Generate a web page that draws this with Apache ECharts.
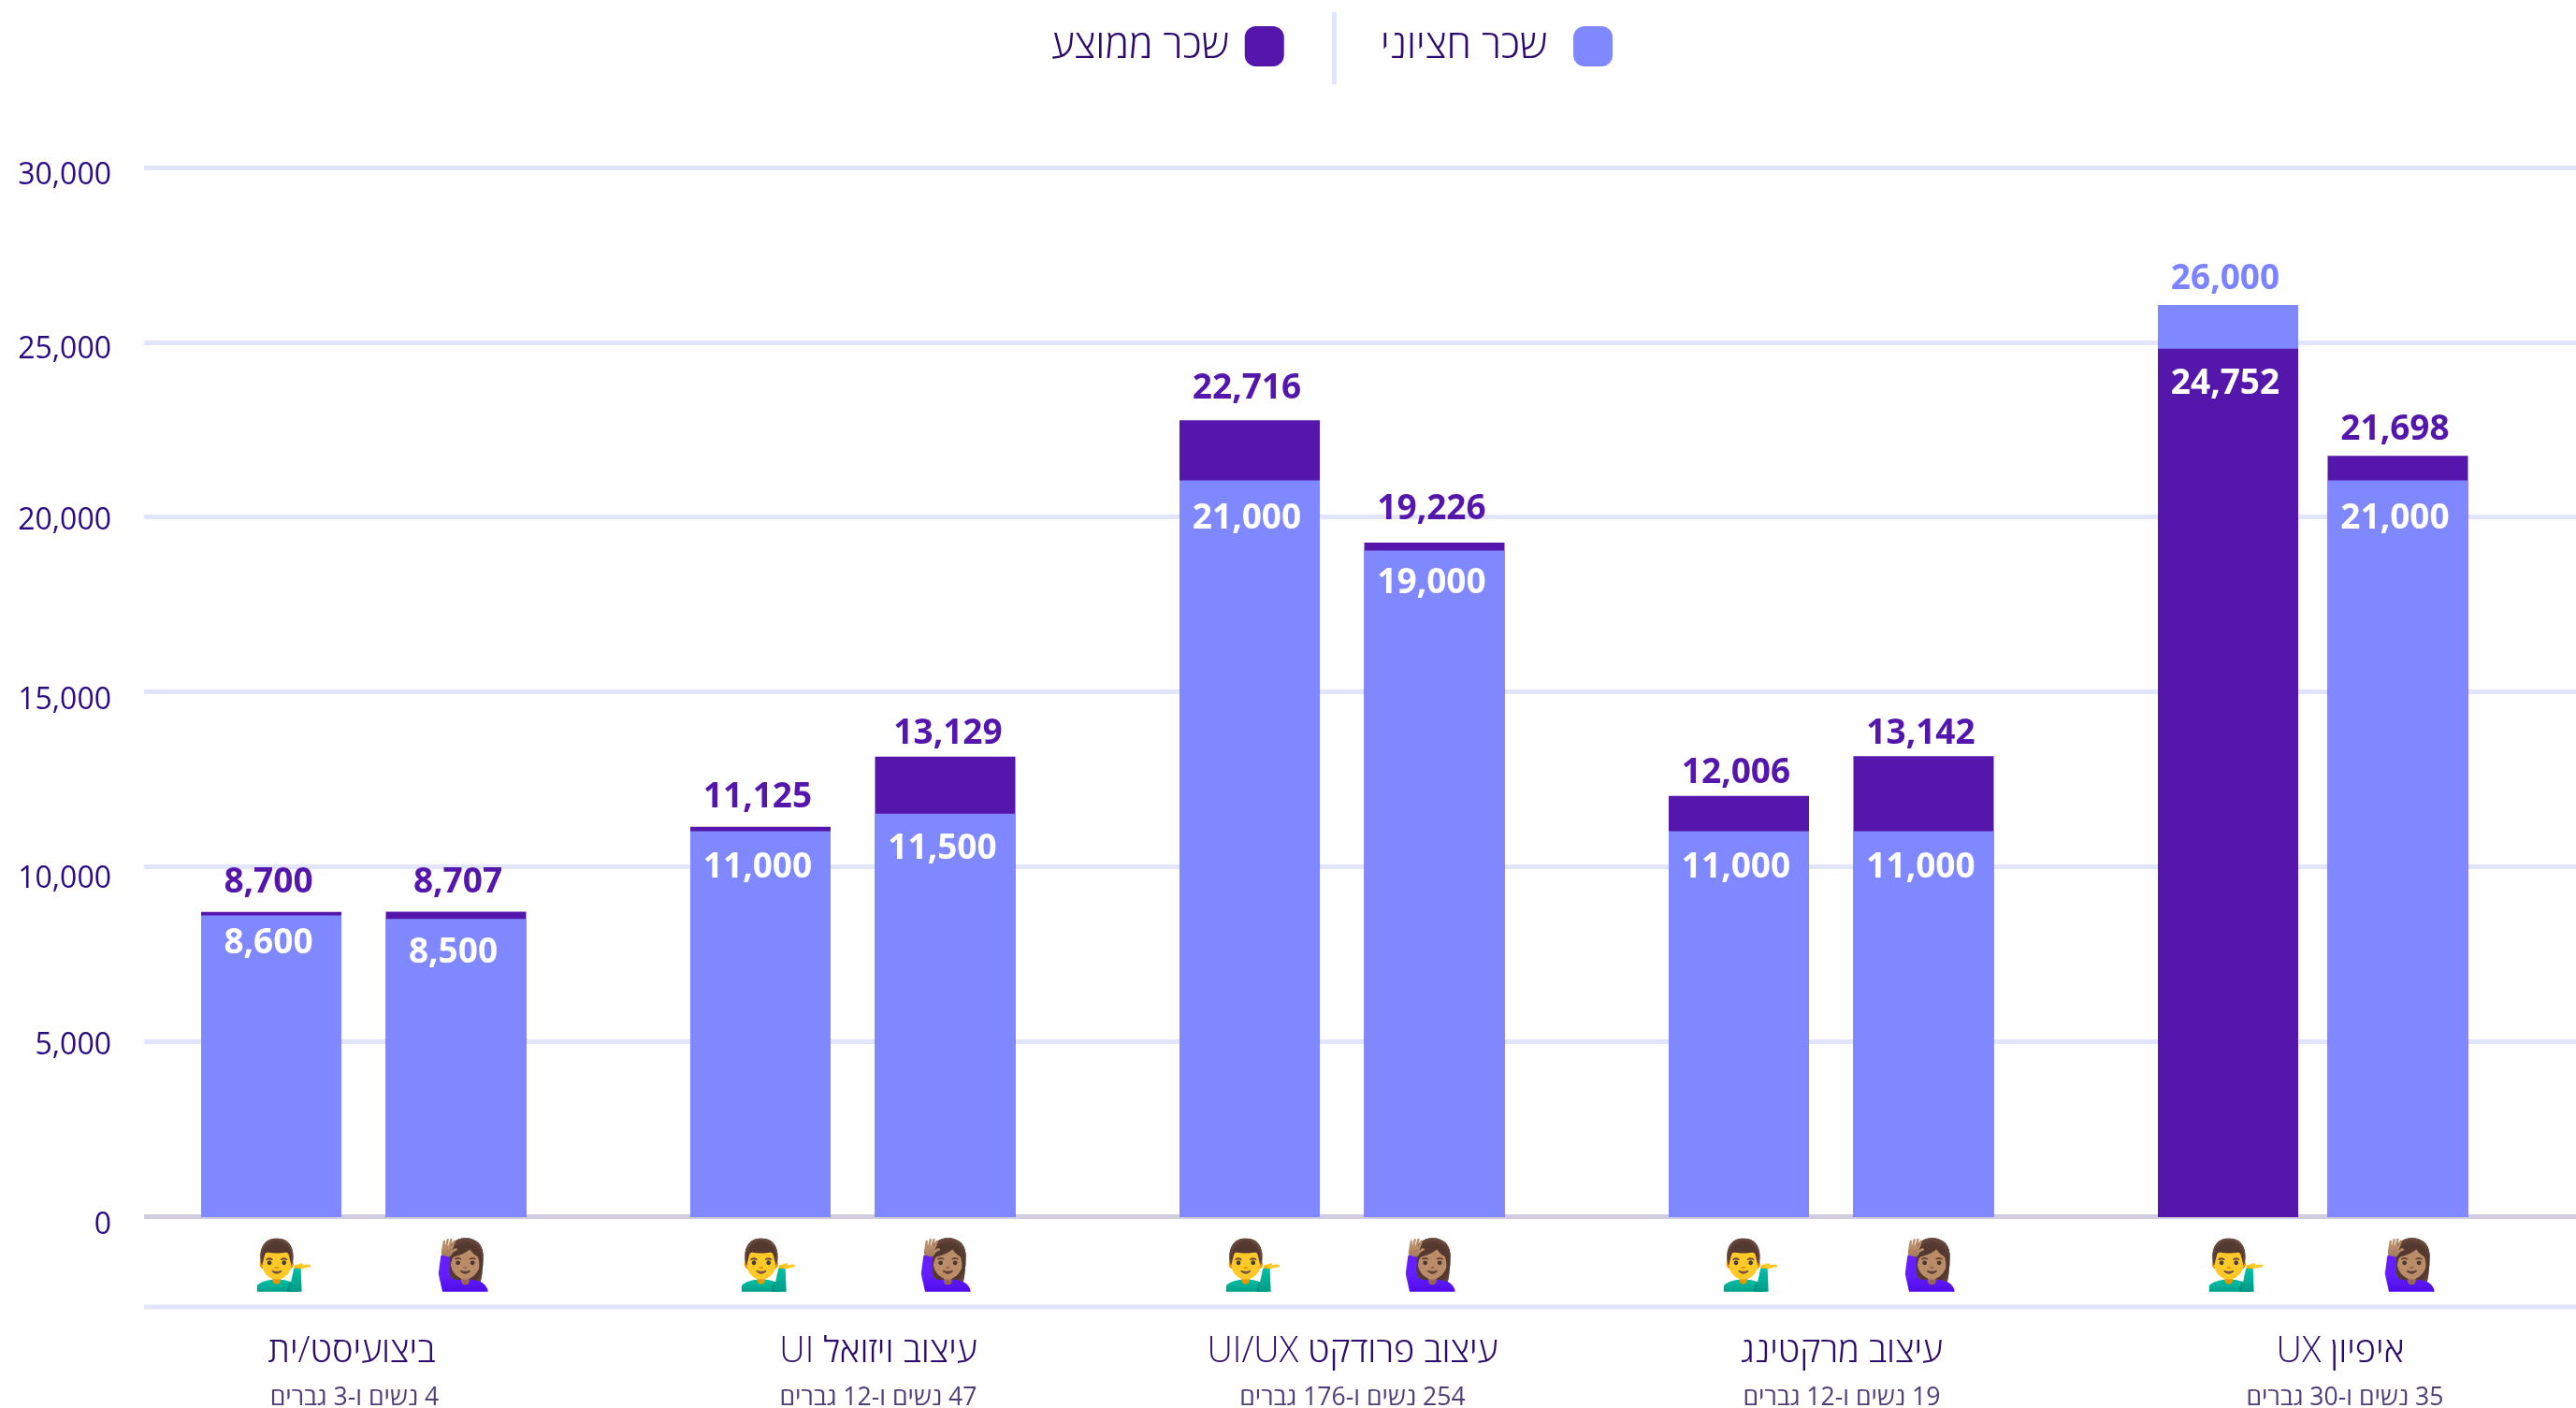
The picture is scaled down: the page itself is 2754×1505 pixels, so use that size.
<!DOCTYPE html>
<html dir="rtl">
<head>
<meta charset="utf-8">
<style>html,body{margin:0;padding:0;background:#fff}#c{position:absolute;left:0;top:0;width:2754px;height:1505px}</style>
<script src="https://cdn.jsdelivr.net/npm/echarts@6/dist/echarts.min.js"></script>
</head>
<body>
<div id="c"></div>
<script>
const categories = ['ביצועיסט/ית','עיצוב ויזואל UI','עיצוב פרודקט UI/UX','עיצוב מרקטינג','איפיון UX'];
const subtitles = ['4 נשים ו-3 גברים','47 נשים ו-12 גברים','254 נשים ו-176 גברים','19 נשים ו-12 גברים','35 נשים ו-30 גברים'];
const medianMen = [8600,11000,21000,11000,26000];
const medianWomen = [8500,11500,19000,11000,21000];
const averageMen = [8700,11125,22716,12006,24752];
const averageWomen = [8707,13129,19226,13142,21698];
const yTicks = [0,5000,10000,15000,20000,25000,30000];
const medianName = 'שכר חציוני';
const averageName = 'שכר ממוצע';
const manEmoji = '💁‍♂️';
const womanEmoji = '🙋🏽‍♀️';

// layout constants (not data)
const LIGHT='#8088ff', DARK='#5516ab', LIGHT_LABEL='#7b83ff', LINE='#e3e5fd';
const FONT='"Open Sans","Noto Sans",sans-serif';
const nameNudge=[-13,27,11,11,21], subNudge=[-10,27,11,11,26];
const yNudge={0:10,5000:5,10000:14,15000:9,20000:4,25000:8,30000:9};
const manNudge=[5,0,-5,4,0], womanNudge=[5,-2,-7,4,2];
const topDy={8700:-2,8707:-2,11125:-2,13129:5,22716:-5,19226:-7,12006:5,13142:5,26000:1,21698:1};
const innerDy={8600:-8,8500:-2,21000:3,19000:-3,11000:1};
const topDx={8707:5,13129:6};

const fmt=v=>v.toLocaleString('en-US');
function barRender(own,other,color,labelColor){
  return function(params,api){
    const i=api.value(0), c=api.coord([i,0]), band=api.size([1,0])[0];
    const u=band/523, kids=[];
    [0,1].forEach(g=>{
      const v=own[g][i], o=other[g][i], isTop=v>=o;
      const shift=(g===1&&i===categories.length-1)?-16*u:0;
      const left=c[0]+(g===0?-174*u:23.5*u)+shift, w=150*u;
      const y=api.coord([i,v])[1], h=c[1]-y;
      const ly=isTop?y-29+(topDy[v]||0):y+38+(innerDy[v]||0);
      const lx=left+w/2-3+(isTop?(topDx[v]||0):0);
      kids.push({type:'rect',z2:isTop?1:2,shape:{x:left,y:y,width:w,height:h},style:{fill:color}});
      kids.push({type:'text',z2:10,style:{text:fmt(v),x:lx,y:ly,align:'center',verticalAlign:'middle',
        fill:isTop?labelColor:'#ffffff',font:'700 37px '+FONT}});
    });
    return {type:'group',children:kids};
  };
}
function emojiRender(params,api){
  const i=api.value(0), c=api.coord([i,0]);
  return {type:'group',children:[[manEmoji,-174+75+9+manNudge[i]],[womanEmoji,23+75+6+(i===4?-8:0)+womanNudge[i]]].map(e=>({
    type:'text',style:{text:e[0],x:c[0]+e[1],y:c[1]+54,align:'center',verticalAlign:'middle',font:'52px "Noto Color Emoji","Apple Color Emoji",'+FONT,fill:'#333'}
  }))};
}
const idx=categories.map((_,i)=>[i]);
const rich={};
const padFor=d=>d>0?[0,0,0,2*d]:[0,-2*d,0,0];
categories.forEach((_,i)=>{
  rich['n'+i]={fontFamily:FONT,fontWeight:300,fontSize:38,color:'#2b0a6b',lineHeight:49,padding:padFor(nameNudge[i]),align:'center'};
  rich['s'+i]={fontFamily:FONT,fontWeight:400,fontSize:26.6,color:'#4f3f78',lineHeight:49,padding:padFor(subNudge[i]),align:'center'};
});
const yRich={};
yTicks.forEach(t=>{yRich['t'+t]={fontFamily:FONT,fontWeight:400,fontSize:32,color:'#2a0a82',padding:[2*yNudge[t],0,0,0]};});
const ICON='path://M12 0H30A12 12 0 0 1 42 12V31A12 12 0 0 1 30 43H12A12 12 0 0 1 0 31V12A12 12 0 0 1 12 0Z';
const legendBase=(name,left,pad)=>({left,top:23,align:'right',itemWidth:42,itemHeight:43,data:[name],icon:ICON,
  textStyle:{fontFamily:FONT,fontWeight:300,fontSize:42.5,color:'#2b0a6b',padding:[0,pad,0,0]}});

const chart=echarts.init(document.getElementById('c'),null,{renderer:'canvas'});
chart.setOption({
  animation:false,
  backgroundColor:'#fff',
  legend:[legendBase(averageName,1119,12),legendBase(medianName,1471,23)],
  grid:[
    {left:154,right:0,top:179,height:1121,containLabel:false,outerBoundsMode:'none'},
    {left:127.5,width:2615,top:176,height:1125,containLabel:false,outerBoundsMode:'none'}
  ],
  xAxis:[
    {gridIndex:0,type:'value',min:0,max:1,axisLabel:{show:false},axisTick:{show:false},splitLine:{show:false},
      axisLine:{show:true,lineStyle:{color:'#d2cce0',width:5,cap:'butt'}}},
    {gridIndex:1,type:'category',data:categories,axisLine:{show:false},axisTick:{show:false},
      axisLabel:{interval:0,margin:120,hideOverlap:false,
        formatter:(v,i)=>`{n${i}|${v}}\n{s${i}|${subtitles[i]}}`,rich}}
  ],
  yAxis:[
    {gridIndex:0,type:'value',min:0,max:30000,interval:5000,axisLine:{show:false},axisTick:{show:false},
      splitLine:{show:true,lineStyle:{color:LINE,width:5}},
      axisLabel:{margin:35,align:'right',formatter:v=>`{t${v}|${fmt(v)}}`,rich:yRich}},
    {gridIndex:1,type:'value',min:0,max:30000,show:false,splitLine:{show:false}}
  ],
  graphic:[
    {type:'rect',left:154,top:1394.5,shape:{width:2600,height:5},style:{fill:LINE},silent:true},
    {type:'rect',left:1424,top:13,shape:{width:5,height:77},style:{fill:LINE},silent:true}
  ],
  series:[
    {name:medianName,type:'custom',xAxisIndex:1,yAxisIndex:1,clip:false,data:idx,encode:{x:0},
      itemStyle:{color:LIGHT},renderItem:barRender([medianMen,medianWomen],[averageMen,averageWomen],LIGHT,LIGHT_LABEL)},
    {name:averageName,type:'custom',xAxisIndex:1,yAxisIndex:1,clip:false,data:idx,encode:{x:0},
      itemStyle:{color:DARK},renderItem:barRender([averageMen,averageWomen],[medianMen,medianWomen],DARK,DARK)},
    {name:'icons',type:'custom',xAxisIndex:1,yAxisIndex:1,clip:false,silent:true,data:idx,encode:{x:0},renderItem:emojiRender}
  ]
});
</script>
</body>
</html>
